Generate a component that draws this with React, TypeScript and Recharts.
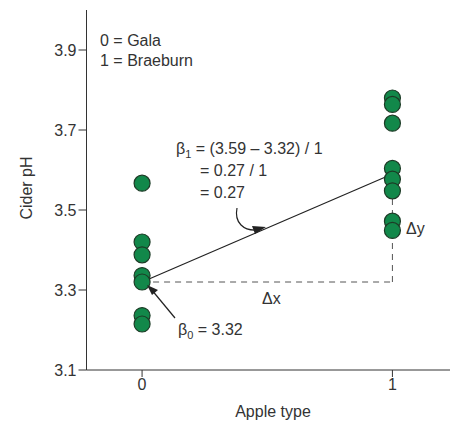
import React from 'react';
import { ScatterChart, Scatter, XAxis, YAxis, ReferenceLine } from 'recharts';

const galaPH = [3.567, 3.42, 3.388, 3.336, 3.32, 3.236, 3.215];
const braeburnPH = [3.78, 3.764, 3.717, 3.604, 3.577, 3.548, 3.472, 3.449];
const yTicks = [3.1, 3.3, 3.5, 3.7, 3.9];
const xTicks = [0, 1];
const beta0 = 3.32;
const beta1 = 0.27;

const points = [
  ...galaPH.map((y) => ({ x: 0, y })),
  ...braeburnPH.map((y) => ({ x: 1, y })),
];

const font = '"Liberation Sans", Arial, sans-serif';

const Dot = (props: any) => (
  <circle cx={props.cx} cy={props.cy} r={8} fill="#12884a" stroke="#1d3b26" strokeWidth={1.2} />
);

const App = () => {
  return (
    <div style={{ position: 'relative', width: 460, height: 420, fontFamily: font }}>
      <ScatterChart width={460} height={420} margin={{ top: 2, right: 18, bottom: 28, left: 0 }}>
        <XAxis
          type="number"
          dataKey="x"
          domain={[-0.222, 1.23]}
          ticks={xTicks}
          height={30}
          tickSize={7}
          stroke="#333"
          tick={{ fill: '#333', fontSize: 16, fontFamily: font }}
        />
        <YAxis
          type="number"
          dataKey="y"
          domain={[3.1, 4.0]}
          ticks={yTicks}
          width={78.5}
          tickSize={8}
          stroke="#333"
          tick={{ fill: '#333', fontSize: 16, fontFamily: font }}
        />
        <ReferenceLine segment={[{ x: 0, y: beta0 }, { x: 1, y: beta0 }]} stroke="#555" strokeDasharray="6 5" />
        <ReferenceLine segment={[{ x: 1, y: beta0 }, { x: 1, y: beta0 + beta1 }]} stroke="#555" strokeDasharray="6 5" />
        <Scatter data={points} shape={Dot} isAnimationActive={false} />
        <ReferenceLine segment={[{ x: 0, y: beta0 }, { x: 1, y: beta0 + beta1 }]} stroke="#222" strokeWidth={1.2} />
      </ScatterChart>
      <svg width={460} height={420} style={{ position: 'absolute', left: 0, top: 0, pointerEvents: 'none' }}
        fontFamily={font} fontSize={16} fill="#333">
        <text x={265} y={409} textAnchor="middle">Apple type</text>
        <text x={0} y={0} transform="translate(24,180) rotate(-90)" textAnchor="middle">Cider pH</text>
        <text x={92} y={38}>0 = Gala</text>
        <text x={92} y={58}>1 = Braeburn</text>
        <text x={168} y={146}>β<tspan fontSize={11} dy={4}>1</tspan><tspan dy={-4}> = (3.59 – 3.32) / 1</tspan></text>
        <text x={192} y={168}>= 0.27 / 1</text>
        <text x={192} y={190}>= 0.27</text>
        <text x={398} y={226}>Δy</text>
        <text x={254} y={296}>Δx</text>
        <text x={170} y={327}>β<tspan fontSize={11} dy={4}>0</tspan><tspan dy={-4}> = 3.32</tspan></text>
        <path d="M229,200 C226,215 236,223 249,222" stroke="#222" fill="none" strokeWidth={1.2} />
        <path d="M258,219 L244,218 L247,226 Z" fill="#222" />
        <path d="M167,310 L143,281" stroke="#222" strokeWidth={1.2} />
        <path d="M139,277 L150,282 L144,287 Z" fill="#222" />
      </svg>
    </div>
  );
};

export default App;
